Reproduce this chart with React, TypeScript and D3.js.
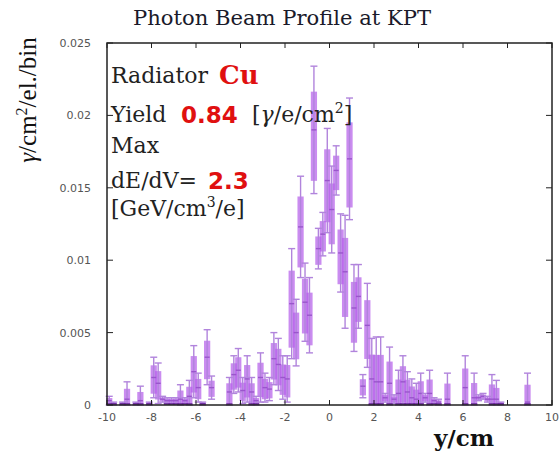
import React from "react";
import * as d3 from "d3";

const W = 559;
const H = 451;

// 100 bins, 0.2 cm wide, from -10 to 10 cm
const binCount = 100;
const xMin = -10;
const xMax = 10;

const values = [
  0.0003, 0.0001, 0, 0.0001, 0.0004, 0, 0.0001, 0.0003, 0, 0.0001,
  0.0019, 0.0015, 0.0004, 0.0003, 0.0003, 0.0003, 0.0004, 0.0003, 0.0006, 0.0023,
  0.0012, 0.0001, 0.0033, 0.0012, 0, 0, 0, 0.0009, 0.0021, 0.0024,
  0.0010, 0.0018, 0.0009, 0.0003, 0.0019, 0.0012, 0.0011, 0.0032, 0.0028, 0.0019,
  0.0018, 0.0070, 0.0050, 0.0123, 0.0071, 0.0062, 0.0190, 0.0108, 0.0118, 0.0155,
  0.0135, 0.0162, 0.0105, 0.0092, 0.0170, 0.0067, 0.0075, 0.0013, 0.0055, 0.0018,
  0.0016, 0.0016, 0.0005, 0.0015, 0.0004, 0.0008, 0.0016, 0.0009, 0.0005, 0.0004,
  0.0008, 0.0005, 0.0008, 0.0003, 0.0002, 0, 0.0004, 0, 0, 0,
  0.0012, 0, 0.0005, 0.0005, 0.0006, 0.0004, 0.0004, 0.0004, 0.0001, 0,
  0, 0, 0, 0, 0.0002, 0, 0, 0, 0, 0,
];

const errors = [
  0.0003, 0.0001, 0, 0.0001, 0.0012, 0, 0.0001, 0.0010, 0, 0.0001,
  0.0014, 0.0014, 0.0002, 0.0002, 0.0002, 0.0002, 0.0010, 0.0002, 0.0011, 0.0018,
  0.0010, 0.0001, 0.0019, 0.0008, 0, 0, 0, 0.0010, 0.0013, 0.0015,
  0.0009, 0.0016, 0.0010, 0.0003, 0.0017, 0.0010, 0.0008, 0.0018, 0.0018, 0.0015,
  0.0016, 0.0038, 0.0023, 0.0035, 0.0027, 0.0026, 0.0044, 0.0014, 0.0015, 0.0036,
  0.0030, 0.0017, 0.0027, 0.0039, 0.0042, 0.0030, 0.0022, 0.0008, 0.0029, 0.0028,
  0.0031, 0.0031, 0.0003, 0.0025, 0.0003, 0.0016, 0.0018, 0.0014, 0.0013, 0.0011,
  0.0014, 0.0003, 0.0016, 0.0002, 0.0002, 0, 0.0018, 0, 0, 0,
  0.0022, 0, 0.0017, 0.0002, 0.0002, 0.0002, 0.0017, 0.0013, 0.0001, 0,
  0, 0, 0, 0, 0.0020, 0, 0, 0, 0, 0,
];

const xTicks = [-10, -8, -6, -4, -2, 0, 2, 4, 6, 8, 10];
const yTicks = [0, 0.005, 0.01, 0.015, 0.02, 0.025];
const yTickLabels = ["0", "0.005", "0.01", "0.015", "0.02", "0.025"];

const title = "Photon Beam Profile at KPT";

export default function App() {
  const left = 107, right = 552, top = 43, bottom = 405;
  const x = d3.scaleLinear().domain([xMin, xMax]).range([left, right]);
  const y = d3.scaleLinear().domain([0, 0.025]).range([bottom, top]);
  const binW = (xMax - xMin) / binCount;
  const bins = d3.range(binCount).map((i) => ({
    c: xMin + binW * (i + 0.5),
    v: values[i],
    e: errors[i],
  }));
  const boxPx = (x(binW) - x(0)) * 1.4;
  const capHalf = 3.5;
  const serif = "'DejaVu Serif', 'Liberation Serif', serif";
  const sans = "'DejaVu Sans', 'Liberation Sans', sans-serif";
  const nz = bins.filter((b) => b.v > 0);

  return (
    <svg width={W} height={H} style={{ position: "absolute", left: 0, top: 0, background: "#fff" }}>
      <rect x={0} y={0} width={W} height={H} fill="#fff" />
      {/* title */}
      <text x={282} y={25} textAnchor="middle" fontFamily={serif} fontSize={21} fill="#1a1a2a"
        textLength={298} lengthAdjust="spacingAndGlyphs">
        {title}
      </text>
      {/* y label */}
      <text
        transform={`translate(36,100) rotate(-90)`}
        textAnchor="middle"
        fontFamily="'Liberation Serif', serif"
        fontSize={25}
        fill="#111"
      >
        <tspan fontStyle="italic">γ</tspan>
        <tspan>/cm</tspan>
        <tspan fontSize={16} dy={-9}>2</tspan>
        <tspan dy={9}>/el./bin</tspan>
      </text>

      {/* data: boxes */}
      <g>
        {nz.map((b, i) => {
          const lo = Math.max(0, b.v - 0.8 * b.e);
          const hi = b.v + 0.6 * b.e;
          return (
            <rect
              key={"b" + i}
              x={x(b.c) - boxPx / 2}
              y={y(hi)}
              width={boxPx}
              height={Math.max(2, y(lo) - y(hi))}
              fill="#b660ea"
              fillOpacity={0.72}
            />
          );
        })}
      </g>
      {/* data: error bars */}
      <g stroke="#b184dc" strokeWidth={1.4} fill="none">
        {nz.map((b, i) => {
          const cx = x(b.c);
          const lo = Math.max(0, b.v - b.e);
          const hi = b.v + b.e;
          return (
            <g key={"e" + i}>
              <line x1={cx} x2={cx} y1={y(lo)} y2={y(hi)} />
              <line x1={cx - capHalf} x2={cx + capHalf} y1={y(hi)} y2={y(hi)} />
              <line x1={cx - capHalf} x2={cx + capHalf} y1={y(lo)} y2={y(lo)} />
              <line x1={cx - 2.5} x2={cx + 2.5} y1={y(b.v)} y2={y(b.v)} stroke="#9a55cc" />
            </g>
          );
        })}
      </g>
      {/* baseline dark strips */}
      <g stroke="#6a2a9a" strokeWidth={1.6}>
        {nz.filter((b) => b.v - b.e <= 0.0001).map((b, i) => (
          <line key={"d" + i} x1={x(b.c) - boxPx / 2} x2={x(b.c) + boxPx / 2} y1={y(0) - 1} y2={y(0) - 1} />
        ))}
      </g>

      {/* frame */}
      <rect x={left} y={top} width={right - left} height={bottom - top} fill="none" stroke="#222" strokeWidth={1.5} />
      {/* ticks */}
      <g stroke="#222" strokeWidth={1}>
        {xTicks.map((t) => (
          <g key={"xt" + t}>
            <line x1={x(t)} x2={x(t)} y1={bottom} y2={bottom - 5} />
            <line x1={x(t)} x2={x(t)} y1={top} y2={top + 5} />
          </g>
        ))}
        {yTicks.map((t) => (
          <g key={"yt" + t}>
            <line x1={left} x2={left + 6} y1={y(t)} y2={y(t)} />
            <line x1={right} x2={right - 6} y1={y(t)} y2={y(t)} />
          </g>
        ))}
      </g>
      <g fontFamily={sans} fontSize={11} fill="#555">
        {xTicks.map((t) => (
          <text key={"xl" + t} x={x(t)} y={421} textAnchor="middle">
            {String(t)}
          </text>
        ))}
        {yTicks.map((t, i) => (
          <text key={"yl" + t} x={91} y={y(t) + 4} textAnchor="end">
            {yTickLabels[i]}
          </text>
        ))}
      </g>
      {/* x label */}
      <text x={434} y={446} fontFamily={serif} fontWeight="bold" fontSize={23} fill="#111">
        y/cm
      </text>

      {/* annotation */}
      <g fontFamily={serif} fontSize={22} fill="#222">
        <text x={111} y={83}>Radiator</text>
        <text x={219} y={84} fill="#e01010" fontWeight="bold" fontSize={26}>Cu</text>
        <text x={111} y={122}>Yield</text>
        <text x={181} y={123} fill="#e01010" fontWeight="bold" fontFamily={sans} fontSize={23}>0.84</text>
        <text x={252} y={122}>
          [<tspan fontStyle="italic">γ</tspan>/e/cm<tspan fontSize={14} dy={-9}>2</tspan><tspan dy={9}>]</tspan>
        </text>
        <text x={111} y={153}>Max</text>
        <text x={111} y={188}>dE/dV=</text>
        <text x={208} y={189} fill="#e01010" fontWeight="bold" fontFamily={sans} fontSize={23}>2.3</text>
        <text x={111} y={216}>
          [GeV/cm<tspan fontSize={14} dy={-9}>3</tspan><tspan dy={9}>/e]</tspan>
        </text>
      </g>
    </svg>
  );
}
